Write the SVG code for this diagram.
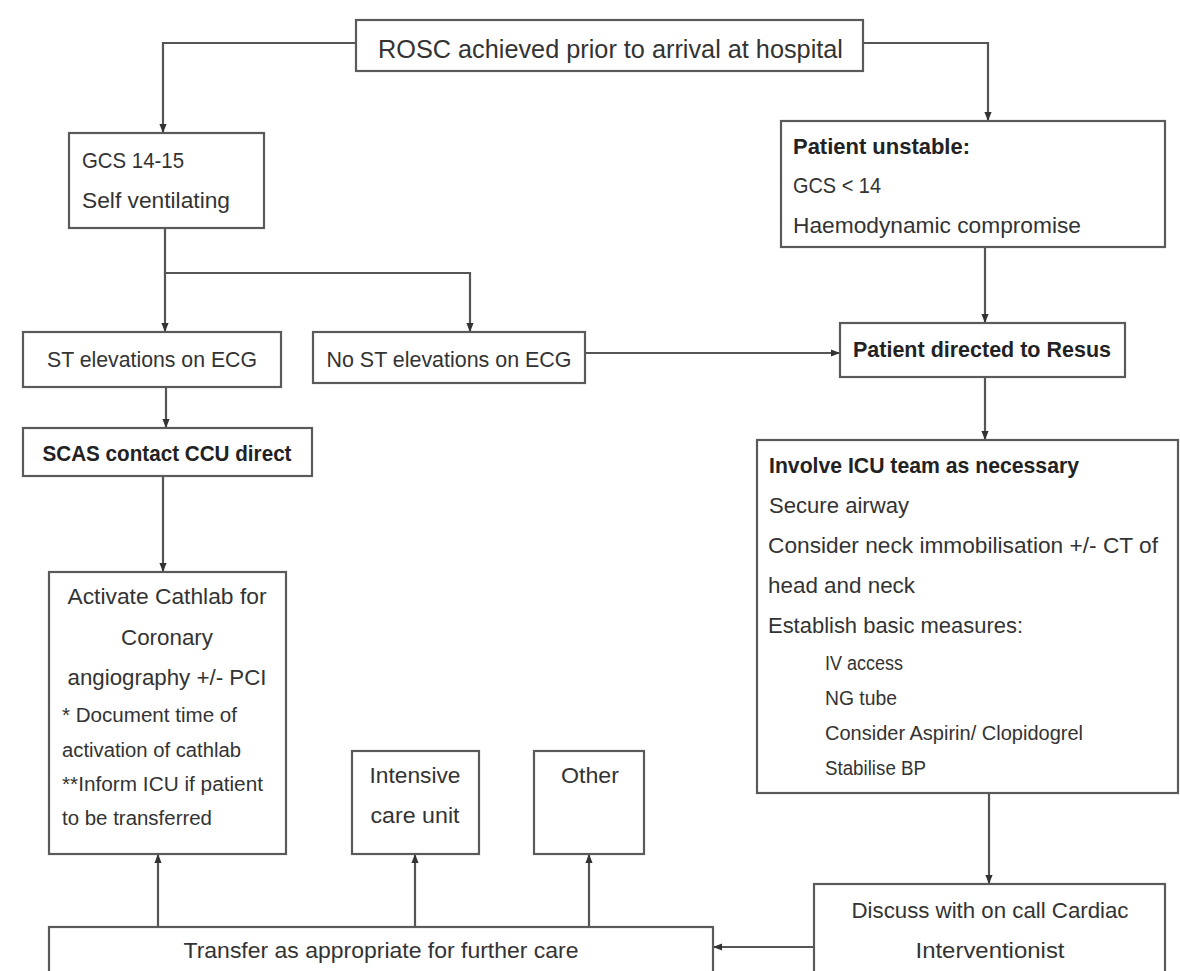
<svg xmlns="http://www.w3.org/2000/svg" width="1180" height="971" viewBox="0 0 1180 971">
<defs>
<style>
.box{fill:#fff;stroke:#5a5a5a;stroke-width:2.2}
.ln{fill:none;stroke:#555;stroke-width:2.2;marker-end:url(#ah)}
text{font-family:"Liberation Sans",Arial,sans-serif;font-size:22px;fill:#333}
.r{font-size:25px}
.b{font-weight:bold;fill:#222}
.s{font-size:19.5px}
.c{text-anchor:middle}
</style>
<marker id="ah" viewBox="0 0 10 10" refX="10" refY="5" markerWidth="9" markerHeight="9" markerUnits="userSpaceOnUse" orient="auto">
<path d="M0,1 L10,5 L0,9 Z" fill="#333"/>
</marker>
</defs>
<rect width="1180" height="971" fill="#fff"/>
<g id="connectors">
<path class="ln" d="M356,43 H163 V133"/>
<path class="ln" d="M863,43 H988 V121"/>
<path class="ln" d="M165,228 V273 H470 V332"/>
<path class="ln" d="M165,273 V332"/>
<path class="ln" d="M585,353 H840"/>
<path class="ln" d="M985,247 V323"/>
<path class="ln" d="M985,377 V440"/>
<path class="ln" d="M166,387 V428"/>
<path class="ln" d="M163,476 V572"/>
<path class="ln" d="M158,927 V854"/>
<path class="ln" d="M415,927 V854"/>
<path class="ln" d="M589,927 V854"/>
<path class="ln" d="M989,793 V884"/>
<path class="ln" d="M814,947 H713"/>
</g>
<g id="rosc">
<rect class="box" x="356" y="20" width="507" height="51"/>
<text class="r" x="378" y="58" textLength="465" lengthAdjust="spacingAndGlyphs">ROSC achieved prior to arrival at hospital</text>
</g>
<g id="gcs">
<rect class="box" x="69" y="133" width="195" height="95"/>
<text x="82" y="168" textLength="102" lengthAdjust="spacingAndGlyphs">GCS 14-15</text>
<text x="82" y="208" textLength="148" lengthAdjust="spacingAndGlyphs">Self ventilating</text>
</g>
<g id="unstable">
<rect class="box" x="781" y="121" width="384" height="126"/>
<text class="b" x="793" y="154" textLength="177" lengthAdjust="spacingAndGlyphs">Patient unstable:</text>
<text x="793" y="193" textLength="88" lengthAdjust="spacingAndGlyphs">GCS &lt; 14</text>
<text x="793" y="233" textLength="288" lengthAdjust="spacingAndGlyphs">Haemodynamic compromise</text>
</g>
<g id="st">
<rect class="box" x="23" y="332" width="258" height="55"/>
<text class="c" x="152" y="367" textLength="210" lengthAdjust="spacingAndGlyphs">ST elevations on ECG</text>
</g>
<g id="nost">
<rect class="box" x="313" y="332" width="272" height="51"/>
<text class="c" x="449" y="367" textLength="245" lengthAdjust="spacingAndGlyphs">No ST elevations on ECG</text>
</g>
<g id="resus">
<rect class="box" x="840" y="323" width="285" height="54"/>
<text class="b c" x="982" y="357" textLength="258" lengthAdjust="spacingAndGlyphs">Patient directed to Resus</text>
</g>
<g id="scas">
<rect class="box" x="23" y="428" width="289" height="48"/>
<text class="b c" x="167" y="461" textLength="249" lengthAdjust="spacingAndGlyphs">SCAS contact CCU direct</text>
</g>
<g id="icu">
<rect class="box" x="757" y="440" width="421" height="353"/>
<text class="b" x="769" y="473" textLength="310" lengthAdjust="spacingAndGlyphs">Involve ICU team as necessary</text>
<text x="769" y="513" textLength="140" lengthAdjust="spacingAndGlyphs">Secure airway</text>
<text x="768" y="553" textLength="390" lengthAdjust="spacingAndGlyphs">Consider neck immobilisation +/- CT of</text>
<text x="768" y="593" textLength="147" lengthAdjust="spacingAndGlyphs">head and neck</text>
<text x="768" y="633" textLength="255" lengthAdjust="spacingAndGlyphs">Establish basic measures:</text>
<text class="s" x="825" y="670" textLength="78" lengthAdjust="spacingAndGlyphs">IV access</text>
<text class="s" x="825" y="705" textLength="72" lengthAdjust="spacingAndGlyphs">NG tube</text>
<text class="s" x="825" y="740" textLength="258" lengthAdjust="spacingAndGlyphs">Consider Aspirin/ Clopidogrel</text>
<text class="s" x="825" y="775" textLength="101" lengthAdjust="spacingAndGlyphs">Stabilise BP</text>
</g>
<g id="cathlab">
<rect class="box" x="49" y="572" width="237" height="282"/>
<text class="c" x="167" y="604" textLength="199" lengthAdjust="spacingAndGlyphs">Activate Cathlab for</text>
<text class="c" x="167" y="645" textLength="92" lengthAdjust="spacingAndGlyphs">Coronary</text>
<text class="c" x="167" y="685" textLength="199" lengthAdjust="spacingAndGlyphs">angiography +/- PCI</text>
<text class="s" x="62" y="722" textLength="175" lengthAdjust="spacingAndGlyphs">* Document time of</text>
<text class="s" x="62" y="757" textLength="179" lengthAdjust="spacingAndGlyphs">activation of cathlab</text>
<text class="s" x="62" y="791" textLength="201" lengthAdjust="spacingAndGlyphs">**Inform ICU if patient</text>
<text class="s" x="62" y="825" textLength="150" lengthAdjust="spacingAndGlyphs">to be transferred</text>
</g>
<g id="icu-unit">
<rect class="box" x="352" y="751" width="127" height="103"/>
<text class="c" x="415" y="783" textLength="91" lengthAdjust="spacingAndGlyphs">Intensive</text>
<text class="c" x="415" y="823" textLength="89" lengthAdjust="spacingAndGlyphs">care unit</text>
</g>
<g id="other">
<rect class="box" x="534" y="751" width="110" height="103"/>
<text class="c" x="590" y="783" textLength="58" lengthAdjust="spacingAndGlyphs">Other</text>
</g>
<g id="transfer">
<rect class="box" x="49" y="927" width="664" height="60"/>
<text class="c" x="381" y="958" textLength="395" lengthAdjust="spacingAndGlyphs">Transfer as appropriate for further care</text>
</g>
<g id="discuss">
<rect class="box" x="814" y="884" width="351" height="100"/>
<text class="c" x="990" y="918" textLength="277" lengthAdjust="spacingAndGlyphs">Discuss with on call Cardiac</text>
<text class="c" x="990" y="958" textLength="149" lengthAdjust="spacingAndGlyphs">Interventionist</text>
</g>
</svg>
